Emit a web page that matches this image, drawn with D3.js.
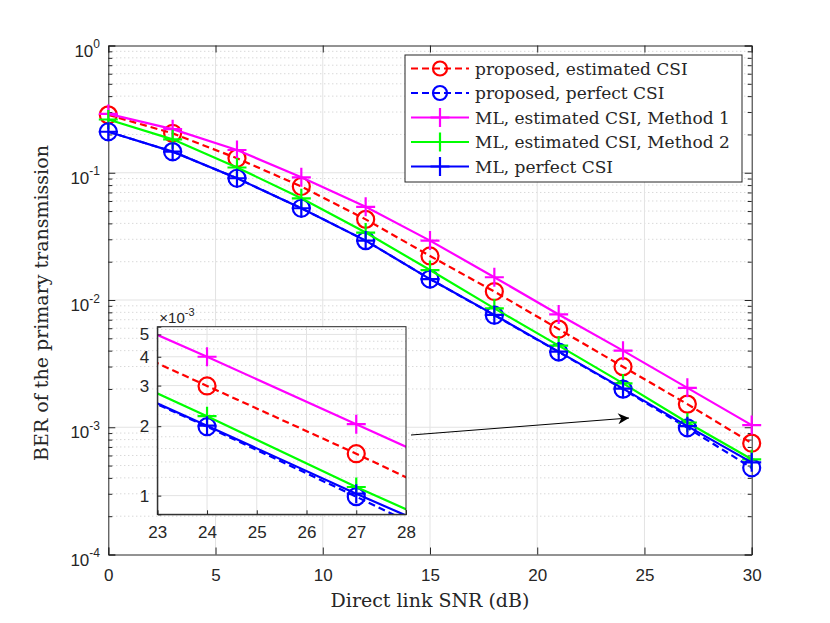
<!DOCTYPE html>
<html>
<head>
<meta charset="utf-8">
<script src="https://cdn.jsdelivr.net/npm/d3@7"></script>
<style>
  body { margin: 0; background: #fff; }
  svg text { fill: #262626; }
</style>
</head>
<body>
<div id="chart"></div>
<script>
// data
var snr = [0, 3, 6, 9, 12, 15, 18, 21, 24, 27, 30];
var propEst  = [0.285, 0.204, 0.130, 0.078, 0.043, 0.0222, 0.01165, 0.0059, 0.00299, 0.00152, 0.00075];
var propPerf = [0.210, 0.1465, 0.0905, 0.0526, 0.0293, 0.0146, 0.0076, 0.0039, 0.00199, 0.00099, 0.00048];
var mlEst1   = [0.290, 0.220, 0.151, 0.092, 0.054, 0.0293, 0.0151, 0.0077, 0.00400, 0.00204, 0.00104];
var mlEst2   = [0.262, 0.183, 0.110, 0.063, 0.0339, 0.0172, 0.0086, 0.00438, 0.00221, 0.00109, 0.00056];
var mlPerf   = [0.210, 0.1465, 0.0905, 0.0526, 0.0293, 0.0146, 0.00764, 0.00393, 0.00201, 0.00102, 0.00053];

var xTicks = [0, 5, 10, 15, 20, 25, 30];
var yDecades = [0, -1, -2, -3, -4];
var insetXTicks = [23, 24, 25, 26, 27, 28];
var insetYTicks = [1, 2, 3, 4, 5];

var series = [
    { name: "proposed, estimated CSI", values: propEst, color: "#ff0000", dash: "7,4", marker: "o" },
    { name: "proposed, perfect CSI", values: propPerf, color: "#0000ff", dash: "7,4", marker: "o" },
    { name: "ML, estimated CSI, Method 1", values: mlEst1, color: "#ff00ff", dash: null, marker: "+" },
    { name: "ML, estimated CSI, Method 2", values: mlEst2, color: "#00ff00", dash: null, marker: "+" },
    { name: "ML, perfect CSI", values: mlPerf, color: "#0000ff", dash: null, marker: "+" }
];

window.onload = () => {
    var width = 830, height = 623;
    var svg = d3.select("#chart").append("svg")
        .attr("width", width).attr("height", height);
    var defs = svg.append("defs");

    var pL = 108.3, pR = 751.7, pT = 45.5, pB = 554.5;
    var x = d3.scaleLinear().domain([0, 30]).range([pL, pR]);
    var y = d3.scaleLog().domain([1e-4, 1]).range([pB, pT]);

    var sansFont = "'Liberation Sans', Arial, sans-serif";
    var serifFont = "'DejaVu Serif', 'Liberation Serif', serif";

    // grid
    var minorY = [];
    yDecades.slice(1).forEach(e => {
        for (var k = 2; k <= 9; k++) minorY.push(k * Math.pow(10, e));
    });
    svg.append("g").selectAll("line").data(minorY).enter().append("line")
        .attr("x1", pL).attr("x2", pR)
        .attr("y1", d => y(d)).attr("y2", d => y(d))
        .attr("stroke", "#c8c8c8").attr("stroke-width", 1).attr("stroke-dasharray", "1,3");
    svg.append("g").selectAll("line").data(yDecades.slice(1, 4)).enter().append("line")
        .attr("x1", pL).attr("x2", pR)
        .attr("y1", d => y(Math.pow(10, d))).attr("y2", d => y(Math.pow(10, d)))
        .attr("stroke", "#e3e3e3").attr("stroke-width", 1);
    svg.append("g").selectAll("line").data(xTicks.slice(1, -1)).enter().append("line")
        .attr("x1", d => x(d)).attr("x2", d => x(d))
        .attr("y1", pT).attr("y2", pB)
        .attr("stroke", "#e3e3e3").attr("stroke-width", 1);

    // axes
    var axB = svg.append("g").attr("transform", `translate(0,${pB})`)
        .call(d3.axisBottom(x).tickValues(xTicks).tickSize(-7).tickPadding(14));
    svg.append("g").attr("transform", `translate(0,${pT})`)
        .call(d3.axisTop(x).tickValues(xTicks).tickSize(-7).tickFormat(""));
    var allY = yDecades.map(e => Math.pow(10, e));
    svg.append("g").attr("transform", `translate(${pL},0)`)
        .call(d3.axisLeft(y).tickValues(allY).tickSize(-7).tickFormat(""));
    svg.append("g").attr("transform", `translate(${pR},0)`)
        .call(d3.axisRight(y).tickValues(allY).tickSize(-7).tickFormat(""));
    svg.append("g").attr("transform", `translate(${pL},0)`)
        .call(d3.axisLeft(y).tickValues(minorY).tickSize(-4).tickFormat(""))
        .select(".domain").remove();
    svg.append("g").attr("transform", `translate(${pR},0)`)
        .call(d3.axisRight(y).tickValues(minorY).tickSize(-4).tickFormat(""))
        .select(".domain").remove();
    svg.selectAll(".domain, .tick line").attr("stroke", "#262626");
    axB.selectAll("text").attr("font-family", sansFont).attr("font-size", 17).attr("fill", "#262626");

    // y tick labels 10^e
    yDecades.forEach(e => {
        var t = svg.append("text")
            .attr("x", 100).attr("y", y(Math.pow(10, e)) + 11)
            .attr("text-anchor", "end").attr("font-family", sansFont).attr("font-size", 17);
        t.append("tspan").text("10");
        t.append("tspan").attr("dy", -8.5).attr("font-size", 12).text(e);
    });

    // axis titles
    svg.append("text")
        .attr("x", (pL + pR) / 2).attr("y", 607)
        .attr("text-anchor", "middle").attr("font-family", serifFont).attr("font-size", 19)
        .text("Direct link SNR (dB)");
    svg.append("text")
        .attr("transform", "translate(48,303) rotate(-90)")
        .attr("text-anchor", "middle").attr("font-family", serifFont).attr("font-size", 19)
        .text("BER of the primary transmission");

    function drawMarker(g, m, px, py, color, r) {
        if (m === "o") {
            g.append("circle").attr("cx", px).attr("cy", py).attr("r", r)
                .attr("fill", "none").attr("stroke", color).attr("stroke-width", 2.2);
        } else {
            g.append("path")
                .attr("d", `M${px - r - 1},${py}H${px + r + 1}M${px},${py - r - 1}V${py + r + 1}`)
                .attr("stroke", color).attr("stroke-width", 2.2);
        }
    }

    function drawSeries(g, xs, ys) {
        series.forEach(s => {
            var pts = snr.map((v, i) => [v, s.values[i]]);
            var line = d3.line().x(d => xs(d[0])).y(d => ys(d[1]));
            g.append("path").datum(pts)
                .attr("d", line)
                .attr("fill", "none").attr("stroke", s.color).attr("stroke-width", 2.2)
                .attr("stroke-dasharray", s.dash);
            pts.forEach(d => drawMarker(g, s.marker, xs(d[0]), ys(d[1]), s.color, 8.5));
        });
    }

    defs.append("clipPath").attr("id", "mainClip")
        .append("rect").attr("x", pL - 12).attr("y", pT).attr("width", pR - pL + 24).attr("height", pB - pT);
    drawSeries(svg.append("g").attr("clip-path", "url(#mainClip)"), x, y);

    // inset
    var iL = 157.3, iR = 406, iT = 326.7, iB = 514.3;
    var ix = d3.scaleLinear().domain([23, 28]).range([iL, iR]);
    var iy = d3.scaleLog().domain([0.83e-3, 5.4e-3]).range([iB, iT]);
    var inset = svg.append("g");
    inset.append("rect").attr("x", iL).attr("y", iT).attr("width", iR - iL).attr("height", iB - iT)
        .attr("fill", "#fff");
    var insetMinor = [1.2, 1.4, 1.6, 1.8, 2.25, 2.5, 2.75, 3.33, 3.67, 4.33, 4.67, 5.25];
    inset.append("g").selectAll("line").data(insetMinor).enter().append("line")
        .attr("x1", iL).attr("x2", iR)
        .attr("y1", d => iy(d * 1e-3)).attr("y2", d => iy(d * 1e-3))
        .attr("stroke", "#c8c8c8").attr("stroke-dasharray", "1,3");
    inset.append("g").selectAll("line").data(insetYTicks).enter().append("line")
        .attr("x1", iL).attr("x2", iR)
        .attr("y1", d => iy(d * 1e-3)).attr("y2", d => iy(d * 1e-3))
        .attr("stroke", "#e3e3e3");
    inset.append("g").selectAll("line").data(insetXTicks.slice(1, -1)).enter().append("line")
        .attr("x1", d => ix(d)).attr("x2", d => ix(d))
        .attr("y1", iT).attr("y2", iB)
        .attr("stroke", "#e3e3e3");

    defs.append("clipPath").attr("id", "insetClip")
        .append("rect").attr("x", iL).attr("y", iT).attr("width", iR - iL).attr("height", iB - iT);
    drawSeries(inset.append("g").attr("clip-path", "url(#insetClip)"), ix, iy);

    var iAxB = inset.append("g").attr("transform", `translate(0,${iB})`)
        .call(d3.axisBottom(ix).tickValues(insetXTicks).tickSize(-4).tickPadding(12).tickFormat(d3.format("d")));
    inset.append("g").attr("transform", `translate(${iL},0)`)
        .call(d3.axisLeft(iy).tickValues(insetYTicks.map(d => d * 1e-3)).tickSize(-4).tickPadding(8)
            .tickFormat(d => Math.round(d * 1000)))
        .selectAll("text").attr("font-family", sansFont).attr("font-size", 17).attr("fill", "#262626");
    inset.selectAll(".domain, .tick line").attr("stroke", "#262626");
    iAxB.selectAll("text").attr("font-family", sansFont).attr("font-size", 17).attr("fill", "#262626");
    inset.append("rect").attr("x", iL).attr("y", iT).attr("width", iR - iL).attr("height", iB - iT)
        .attr("fill", "none").attr("stroke", "#262626");
    var ex = inset.append("text").attr("x", iL + 2).attr("y", iT - 4)
        .attr("font-family", sansFont).attr("font-size", 15);
    ex.append("tspan").text("\u00d710");
    ex.append("tspan").attr("dy", -7).attr("font-size", 11).text("-3");

    // arrow
    defs.append("marker").attr("id", "arrowHead")
        .attr("viewBox", "0 0 10 10").attr("refX", 10).attr("refY", 5)
        .attr("markerWidth", 19).attr("markerHeight", 11).attr("markerUnits", "userSpaceOnUse")
        .attr("orient", "auto")
        .append("path").attr("d", "M0,0L10,5L0,10L3,5Z").attr("fill", "#000");
    svg.append("line").attr("x1", 411).attr("y1", 435).attr("x2", 629).attr("y2", 418)
        .attr("stroke", "#000").attr("stroke-width", 1).attr("marker-end", "url(#arrowHead)");

    // legend
    var lg = svg.append("g");
    lg.append("rect").attr("x", 405).attr("y", 55).attr("width", 337).attr("height", 127)
        .attr("fill", "#fff").attr("stroke", "#262626");
    series.forEach((s, i) => {
        var ly = 68.5 + i * 24.5;
        lg.append("line").attr("x1", 411).attr("x2", 469).attr("y1", ly).attr("y2", ly)
            .attr("stroke", s.color).attr("stroke-width", 2.2).attr("stroke-dasharray", s.dash);
        drawMarker(lg, s.marker, 440, ly, s.color, s.marker === "o" ? 7 : 8.5);
        lg.append("text").attr("x", 475).attr("y", ly + 6)
            .attr("font-family", serifFont).attr("font-size", 17).text(s.name);
    });
};
</script>
</body>
</html>
